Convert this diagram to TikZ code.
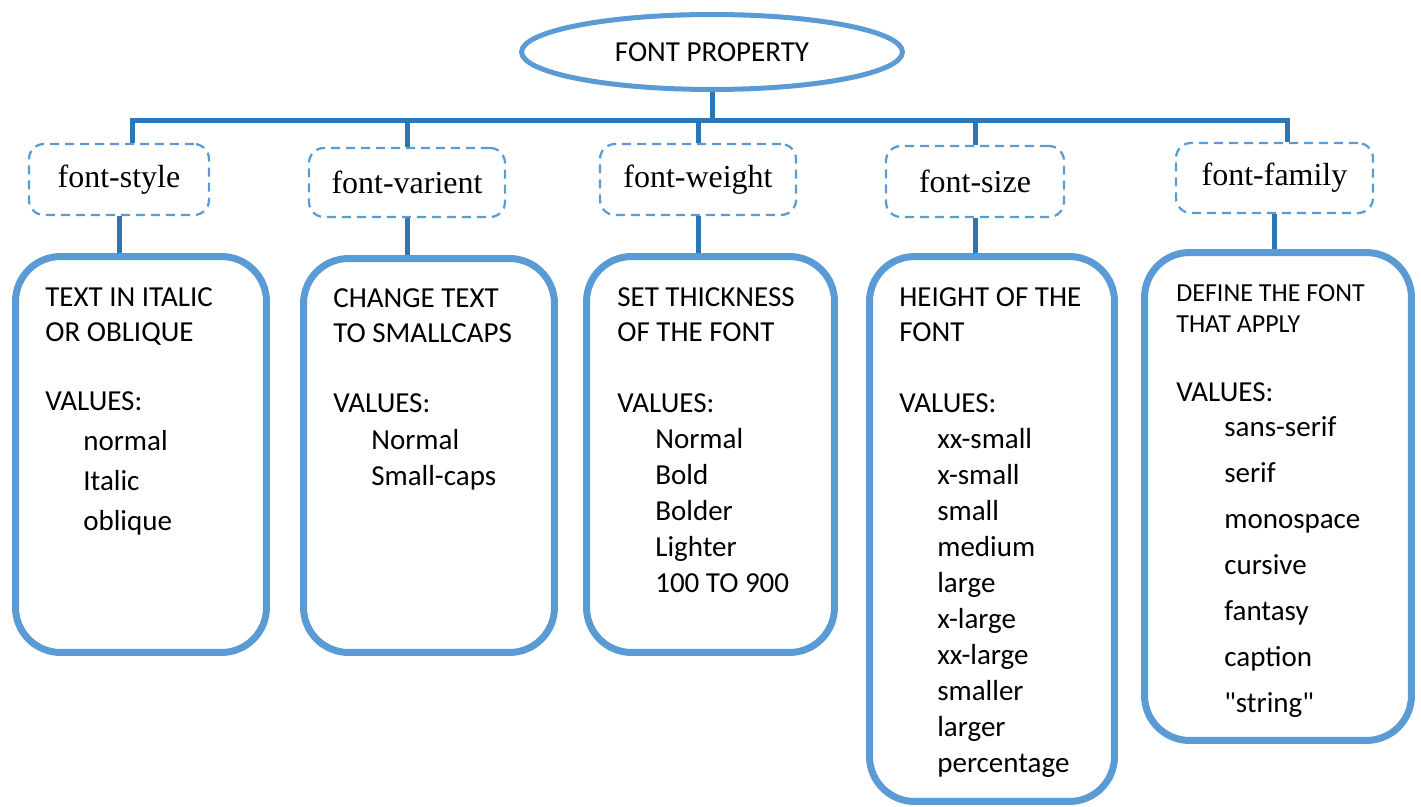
\documentclass[tikz,border=0pt]{standalone}
\usepackage{fontspec}
\setmainfont{Liberation Serif}
\newfontfamily\calibri{Carlito}
\usetikzlibrary{shapes.geometric}

\definecolor{lightblue}{RGB}{91,155,213}
\definecolor{darkblue}{RGB}{46,117,182}

\newcommand{\vin}{\hspace*{0.76cm}}
\newcommand{\vinw}{\hspace*{0.96cm}}

\begin{document}
\begin{tikzpicture}[
    x=0.02cm, y=-0.02cm,
    root/.style = {ellipse, draw=lightblue, line width=0.1cm, inner sep=0pt,
                   minimum width=7.62cm, minimum height=1.5cm,
                   font=\calibri\fontsize{16.5}{20}\selectfont},
    prop/.style = {draw=lightblue, dash pattern=on 0.18cm off 0.12cm,
                   line width=0.045cm, rounded corners=0.3cm, inner sep=0pt,
                   font=\fontsize{18.2}{22}\selectfont},
    card/.style = {draw=lightblue, line width=0.14cm, rounded corners=0.9cm,
                   inner sep=0pt},
    head/.style = {anchor=north west, inner sep=0pt, align=left,
                   font=\calibri\fontsize{16.5}{0.7cm}\selectfont},
    vals/.style = {anchor=north west, inner sep=0pt, align=left,
                   font=\calibri\fontsize{16.5}{0.72cm}\selectfont},
    link/.style = {draw=darkblue, line width=0.1cm}
]
\useasboundingbox (0,0) rectangle (1421,807);

%% -- root --------------------------------------------------------------
\node[root] (root) at (712,52) {FONT PROPERTY};
\coordinate (bar) at (714,121);

%% -- properties --------------------------------------------------------
\node[prop, minimum width=3.6cm,  minimum height=1.42cm] (fs) at (119,179.5) {font-style};
\node[prop, minimum width=3.92cm, minimum height=1.38cm] (fv) at (407,182.5) {font-varient};
\node[prop, minimum width=3.92cm, minimum height=1.42cm] (fw) at (698,179.5) {font-weight};
\node[prop, minimum width=3.56cm, minimum height=1.42cm] (fz) at (975,181.5) {font-size};
\node[prop, minimum width=3.94cm, minimum height=1.40cm] (ff) at (1274.5,178) {font-family};

%% -- cards -------------------------------------------------------------
\node[card, minimum width=5.02cm, minimum height=7.92cm]  (bA) at (141,454.5) {};
\node[card, minimum width=5.02cm, minimum height=7.88cm]  (bB) at (429,455.5) {};
\node[card, minimum width=4.96cm, minimum height=7.92cm]  (bC) at (710.5,454.5) {};
\node[card, minimum width=4.90cm, minimum height=10.9cm]  (bD) at (992,529) {};
\node[card, minimum width=5.34cm, minimum height=9.76cm]  (bE) at (1278,496.5) {};

%% -- card texts --------------------------------------------------------
\node[head] (hA) at (45,287.7)  {TEXT IN ITALIC\\OR OBLIQUE};
\node[vals] (vA) at (45,391.7)  {VALUES:\\[0.08cm]\vin normal\\[0.08cm]\vin Italic\\[0.08cm]\vin oblique};

\node[head] (hB) at (333,288.7) {CHANGE TEXT\\TO SMALLCAPS};
\node[vals] (vB) at (333,393.7) {VALUES:\\[0.01cm]\vin Normal\\[0.01cm]\vin Small-caps};

\node[head] (hC) at (617,287.7) {SET THICKNESS\\OF THE FONT};
\node[vals] (vC) at (617,393.7) {VALUES:\\\vin Normal\\\vin Bold\\\vin Bolder\\\vin Lighter\\\vin 100 TO 900};

\node[head] (hD) at (899,287.7) {HEIGHT OF THE\\FONT};
\node[vals] (vD) at (899,393.7) {VALUES:\\\vin xx-small\\\vin x-small\\\vin small\\\vin medium\\\vin large\\\vin x-large\\\vin xx-large\\\vin smaller\\\vin larger\\\vin percentage};

\node[head, font=\calibri\fontsize{14.8}{0.62cm}\selectfont] (hE) at (1176,284.6) {DEFINE THE FONT\\THAT APPLY};
\node[vals] (vE) at (1176,382.7) {VALUES:\\[-0.02cm]\vinw sans-serif\\[0.2cm]\vinw serif\\[0.2cm]\vinw monospace\\[0.2cm]\vinw cursive\\[0.2cm]\vinw fantasy\\[0.2cm]\vinw caption\\[0.2cm]\vinw "string"};

%% -- connectors --------------------------------------------------------
\draw[link] (root.south) -- (root.south |- bar);
\draw[link] ([xshift=0.28cm]fs.north) |- (bar) -| ([xshift=0.25cm]ff.north);
\draw[link] (fv.north) -- (fv.north |- bar);
\draw[link] (fw.north) -- (fw.north |- bar);
\draw[link] (fz.north) -- (fz.north |- bar);

\draw[link] (fs.south) -- (fs.south |- bA.north);
\draw[link] (fv.south) -- (fv.south |- bB.north);
\draw[link] (fw.south) -- (fw.south |- bC.north);
\draw[link] (fz.south) -- (fz.south |- bD.north);
\draw[link] (ff.south) -- (ff.south |- bE.north);

\end{tikzpicture}
\end{document}
